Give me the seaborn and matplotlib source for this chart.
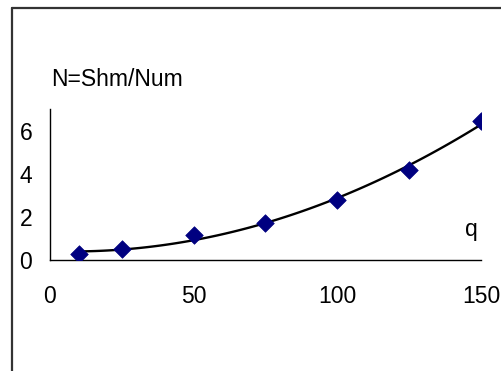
import matplotlib
matplotlib.use("Agg")
import matplotlib.pyplot as plt
import seaborn as sns
import pandas as pd
from matplotlib.lines import Line2D

q_values = [10, 25, 50, 75, 100, 125, 150]
n_values = [0.28, 0.51, 1.14, 1.72, 2.79, 4.19, 6.43]
x_ticks = [0, 50, 100, 150]
y_ticks = [0, 2, 4, 6]

sns.set_style("white")
plt.rcParams['font.family'] = ['Liberation Sans', 'DejaVu Sans']
plt.rcParams['text.color'] = 'black'

FS = 16.5

df = pd.DataFrame({"q": q_values, "N": n_values})

fig = plt.figure(figsize=(5.02, 3.71), dpi=100)
ax = fig.add_axes([50/502, 1-260/371, (481-50)/502, (260-109)/371])

sns.regplot(data=df, x="q", y="N", order=2, ci=None, ax=ax,
            marker="D",
            scatter_kws=dict(s=80, color="#000080", edgecolors="#000080", linewidths=0.5,
                             alpha=1, zorder=3),
            line_kws=dict(color="black", lw=1.7, zorder=2))

ax.set_xlim(0, 150)
ax.set_ylim(0, 7)
ax.set_xticks(x_ticks)
ax.set_yticks(y_ticks)
ax.set_xlabel("")
ax.set_ylabel("")
for s in ["top", "right"]:
    ax.spines[s].set_visible(False)
for s in ["left", "bottom"]:
    ax.spines[s].set_color("black")
    ax.spines[s].set_linewidth(1.0)
ax.tick_params(axis="both", direction="out", length=5.7, width=1, color="black",
               labelsize=FS, labelcolor="black")
ax.tick_params(axis="x", pad=12)
ax.tick_params(axis="y", pad=7)
ax.grid(False)

fig.text(51/502, 1-86.5/371, "N=Shm/Num", fontsize=FS, ha="left", va="baseline", color="black")
fig.text(471/502, 1-236.5/371, "q", fontsize=FS, ha="center", va="baseline", color="black")

fig.add_artist(Line2D([12/502, 12/502], [0, 1-8/371], transform=fig.transFigure,
                      color="#333333", lw=1.6))
fig.add_artist(Line2D([12/502, 1], [1-8/371, 1-8/371], transform=fig.transFigure,
                      color="#333333", lw=1.6))

fig.savefig("out.png", dpi=100)
